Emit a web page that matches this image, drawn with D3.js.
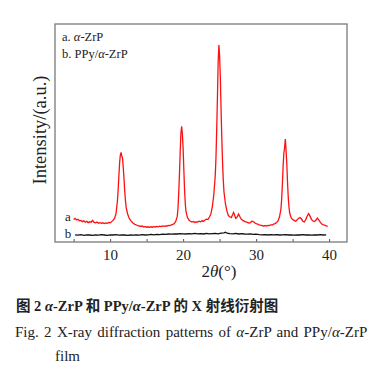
<!DOCTYPE html>
<html><head><meta charset="utf-8">
<script src="https://cdn.jsdelivr.net/npm/d3@7"></script>
<style>body{margin:0;background:#fff}svg{display:block}</style>
</head><body>
<script>
// 2θ (deg) and intensity (a.u.)
const seriesA = [[5.0,112],[5.2,118],[5.4,110],[5.6,114],[5.8,106],[6.0,108],[6.2,102],[6.4,106],[6.6,99],[6.8,103],[7.0,97],[7.2,101],[7.4,99],[7.6,108],[7.8,98],[8.0,96],[8.2,100],[8.4,94],[8.6,97],[8.8,93],[9.0,96],[9.2,92],[9.4,95],[9.6,93],[9.8,98],[10.0,96],[10.2,101],[10.4,108],[10.6,118],[10.8,140],[11.0,205],[11.1,260],[11.2,330],[11.3,395],[11.4,435],[11.5,448],[11.6,430],[11.7,420],[11.8,372],[11.9,318],[12.0,255],[12.1,208],[12.2,172],[12.4,140],[12.6,120],[12.8,108],[13.0,100],[13.2,92],[13.4,88],[13.6,85],[13.8,82],[14.0,80],[14.2,78],[14.4,80],[14.6,75],[14.8,77],[15.0,74],[15.2,76],[15.4,73],[15.6,76],[15.8,74],[16.0,77],[16.2,75],[16.4,78],[16.6,76],[16.8,79],[17.0,77],[17.2,80],[17.4,78],[17.6,81],[17.8,80],[18.0,83],[18.2,82],[18.4,86],[18.6,88],[18.8,92],[19.0,105],[19.2,128],[19.3,170],[19.4,245],[19.5,340],[19.6,450],[19.7,545],[19.8,578],[19.9,540],[20.0,470],[20.1,360],[20.2,260],[20.3,190],[20.4,150],[20.6,122],[20.8,110],[21.0,104],[21.2,100],[21.4,103],[21.6,98],[21.8,101],[22.0,100],[22.2,104],[22.4,101],[22.6,106],[22.8,104],[23.0,110],[23.2,114],[23.4,112],[23.6,125],[23.8,140],[24.0,175],[24.2,235],[24.4,330],[24.5,420],[24.6,560],[24.7,720],[24.8,900],[24.9,985],[25.0,930],[25.1,820],[25.2,660],[25.3,520],[25.4,400],[25.5,310],[25.6,250],[25.8,190],[26.0,155],[26.2,132],[26.4,126],[26.6,122],[26.8,138],[26.9,148],[27.0,140],[27.2,118],[27.4,125],[27.6,140],[27.8,125],[28.0,112],[28.2,108],[28.4,103],[28.6,100],[28.8,98],[29.0,95],[29.2,97],[29.4,104],[29.6,102],[29.8,96],[30.0,92],[30.2,90],[30.4,86],[30.6,84],[30.8,82],[31.0,80],[31.2,82],[31.4,80],[31.6,83],[31.8,82],[32.0,86],[32.2,85],[32.4,90],[32.6,92],[32.8,98],[33.0,105],[33.2,125],[33.4,165],[33.5,215],[33.6,290],[33.7,380],[33.8,445],[33.9,470],[34.0,515],[34.1,460],[34.2,395],[34.3,300],[34.4,225],[34.5,175],[34.6,145],[34.8,122],[35.0,112],[35.2,108],[35.4,104],[35.6,110],[35.8,118],[36.0,122],[36.2,116],[36.4,104],[36.6,100],[36.8,112],[37.0,130],[37.2,142],[37.4,128],[37.6,112],[37.8,105],[38.0,102],[38.2,110],[38.4,120],[38.6,110],[38.8,98],[39.0,90],[39.2,86],[39.4,84],[39.6,80],[39.8,78]];
const seriesB = [[5.2,36],[5.6,34],[6.0,37],[6.4,33],[6.8,36],[7.2,35],[7.6,33],[8.0,36],[8.4,34],[8.8,37],[9.2,35],[9.6,33],[10.0,36],[10.4,35],[10.8,37],[11.2,34],[11.6,36],[12.0,35],[12.4,33],[12.8,35],[13.2,34],[13.6,36],[14.0,34],[14.4,37],[14.8,35],[15.2,36],[15.6,38],[16.0,36],[16.4,38],[16.8,37],[17.2,39],[17.6,38],[18.0,40],[18.4,39],[18.8,41],[19.2,40],[19.6,42],[20.0,41],[20.4,40],[20.8,42],[21.2,41],[21.6,43],[22.0,41],[22.4,42],[22.8,40],[23.2,43],[23.6,41],[24.0,42],[24.4,43],[24.8,41],[25.2,44],[25.6,46],[25.8,49],[26.0,44],[26.4,42],[26.8,41],[27.2,43],[27.6,40],[28.0,42],[28.4,40],[28.8,39],[29.2,41],[29.6,38],[30.0,39],[30.4,37],[30.8,36],[31.2,37],[31.6,35],[32.0,37],[32.4,36],[32.8,37],[33.2,35],[33.6,36],[34.0,37],[34.4,35],[34.8,36],[35.2,34],[35.6,36],[36.0,35],[36.4,37],[36.8,35],[37.2,36],[37.6,34],[38.0,36],[38.4,35],[38.8,37],[39.2,35],[39.6,36]];
const xTicks = [5,10,15,20,25,30,35,40];
const xTickLabels = [10,20,30,40];
const seriesNames = ["a. ", "b. PPy/"];

const W=384,H=372;
const L=55,R=347,T=24,B=242;
const svg=d3.select("body").append("svg").attr("width",W).attr("height",H);
const x=d3.scaleLinear().domain([2.45,42.45]).range([L,R]);
const y=d3.scaleLinear().domain([0,1090]).range([B,T]);
const serif="'Liberation Serif','Times New Roman',serif";

// axes (inward ticks)
const xa=d3.axisBottom(x).tickValues(xTicks).tickSize(-3).tickFormat(d=>xTickLabels.includes(d)?d:"").tickPadding(7);
const gx=svg.append("g").attr("transform",`translate(0,${B})`).call(xa);
gx.select(".domain").remove();
gx.selectAll("line").attr("stroke","#555");
gx.selectAll("text").attr("font-family",serif).attr("font-size",15).attr("fill","#222");

// frame
svg.append("rect").attr("x",L).attr("y",T).attr("width",R-L).attr("height",B-T)
  .attr("fill","none").attr("stroke","#7a7a7a").attr("stroke-width",1.3);

const line=d3.line().x(d=>x(d[0])).y(d=>y(d[1]));
svg.append("path").datum(seriesB).attr("d",line).attr("fill","none").attr("stroke","#111").attr("stroke-width",1.3);
svg.append("path").datum(seriesA).attr("d",line).attr("fill","none").attr("stroke","#ff1010").attr("stroke-width",1.3);

// curve labels
svg.append("text").attr("x",68).attr("y",221).attr("text-anchor","middle").attr("font-family",serif).attr("font-size",13).attr("fill","#222").text("a");
svg.append("text").attr("x",68).attr("y",238).attr("text-anchor","middle").attr("font-family",serif).attr("font-size",13).attr("fill","#222").text("b");

// legend
const lg=svg.append("g").attr("font-family",serif).attr("font-size",12.5).attr("fill","#222");
const t1=lg.append("text").attr("x",62).attr("y",41);
t1.append("tspan").text(seriesNames[0]);
t1.append("tspan").attr("font-style","italic").text("α");
t1.append("tspan").text("-ZrP");
const t2=lg.append("text").attr("x",62).attr("y",58);
t2.append("tspan").text(seriesNames[1]);
t2.append("tspan").attr("font-style","italic").text("α");
t2.append("tspan").text("-ZrP");

// axis titles
const xt=svg.append("text").attr("x",219).attr("y",277).attr("text-anchor","middle").attr("font-family",serif).attr("font-size",17).attr("fill","#222");
xt.append("tspan").text("2");
xt.append("tspan").attr("font-style","italic").text("θ");
xt.append("tspan").text("(°)");
svg.append("text").attr("transform","translate(46,130) rotate(-90)").attr("text-anchor","middle")
  .attr("font-family",serif).attr("font-size",18.5).attr("fill","#222").text("Intensity/(a.u.)");

// captions
const cjk="'Liberation Serif','Noto Sans CJK SC',serif";
const c1=svg.append("text").attr("x",16).attr("y",311).attr("font-family",cjk).attr("font-size",14.5).attr("fill","#222").attr("font-weight","bold");
c1.append("tspan").text("图 2  ");
c1.append("tspan").attr("font-style","italic").text("α");
c1.append("tspan").text("-ZrP 和 PPy/");
c1.append("tspan").attr("font-style","italic").text("α");
c1.append("tspan").text("-ZrP 的 X 射线衍射图");
const c2=svg.append("text").attr("x",15).attr("y",337).attr("font-family",serif).attr("font-size",15).attr("word-spacing",1.6).attr("fill","#222");
c2.append("tspan").text("Fig. 2  X-ray diffraction patterns of ");
c2.append("tspan").attr("font-style","italic").text("α");
c2.append("tspan").text("-ZrP and PPy/");
c2.append("tspan").attr("font-style","italic").text("α");
c2.append("tspan").text("-ZrP");
svg.append("text").attr("x",55).attr("y",361).attr("font-family",serif).attr("font-size",15).attr("fill","#222").text("film");
</script>
</body></html>
